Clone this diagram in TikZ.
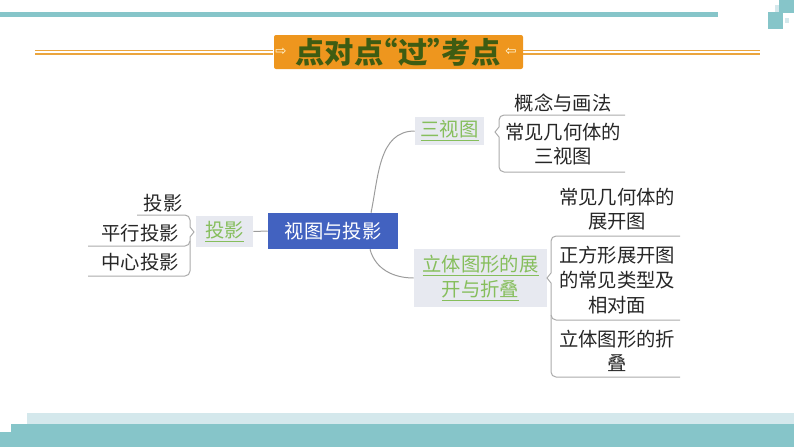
\documentclass[tikz,border=0pt]{standalone}
\usepackage{fontspec}
\setmainfont{Noto Sans CJK SC}
\newfontfamily\arrowfont{DejaVu Sans}
\usetikzlibrary{calc}
\definecolor{barteal}{HTML}{86C5C9}
\definecolor{barpale}{HTML}{D4E8EC}
\definecolor{hdorange}{HTML}{EE961E}
\definecolor{hdgreen}{HTML}{3E5C12}
\definecolor{hdline}{HTML}{EBA53E}
\definecolor{rootblue}{HTML}{4262C0}
\definecolor{topicgray}{HTML}{E7E9F0}
\definecolor{linkgreen}{HTML}{86BE5C}
\definecolor{wiregray}{HTML}{9C9C9C}
\begin{document}
\begin{tikzpicture}[x=0.75pt, y=-0.75pt,
  leaf/.style = {font=\fontsize{14.5}{18.5}\selectfont, text=black!85, align=center, inner sep=0pt},
  topic/.style = {fill=topicgray, text=linkgreen, font=\fontsize{14.5}{18.5}\selectfont, align=center, inner sep=0pt},
  wire/.style = {draw=wiregray, line width=0.75pt},
  brace/.style = {draw=wiregray!85, line width=0.75pt}]
  \useasboundingbox (0,0) rectangle (794,447);
  % frame bars
  \fill[barteal] (0,12) rectangle (718,17);
  \fill[barteal] (768,12) rectangle (783,29);
  \fill[barteal] (779,0) rectangle (794,13);
  \fill[barpale] (775,5) rectangle (779,12);
  \fill[barpale] (785,18) rectangle (789,23);
  \fill[barpale] (27,413) rectangle (794,425);
  \fill[barteal] (11,424) rectangle (794,447);
  \fill[barteal] (0,432) rectangle (11,447);
  % header
  \draw[hdline, line width=0.9pt] (35,50.5) -- (273,50.5) (35,54) -- (273,54);
  \draw[hdline, line width=0.9pt] (523,50.5) -- (760,50.5) (523,54) -- (760,54);
  \node[fill=hdorange, rounded corners=1.5pt, minimum width=186.75pt, minimum height=25.5pt, inner sep=0pt] (head) at (398.5,52) {};
  \node[text=hdgreen, font=\fontsize{22}{25}\bfseries] (headtxt) at (398,52)
    {点对点\kern-0.5em“过”\kern-0.5em考点};
  \node[text=white!90!yellow, font=\arrowfont\fontsize{10}{11}\selectfont] (harrl) at (281,52) {⇨};
  \node[text=white!90!yellow, font=\arrowfont\fontsize{10}{11}\selectfont] (harrr) at (511,52) {⇦};
  % mind map
  \node[fill=rootblue, text=white, minimum width=97.5pt, minimum height=27pt, inner sep=0pt, font=\fontsize{14.5}{18.5}\selectfont] (root) at (333,231) {视图与投影};
  \node[topic, minimum width=42.75pt, minimum height=23.25pt] (ty) at (224.5,231.5) {\underline{投影}};
  \node[topic, minimum width=51.75pt, minimum height=21pt] (sv) at (449.5,131) {\underline{三视图}};
  \node[topic, minimum width=99.75pt, minimum height=43.5pt] (lt) at (480.5,278) {\underline{立体图形的展}\\\underline{开与折叠}};
  \draw[wire] (ty.east) -- (root.west);
  \draw[wire] ($(root.north)+(38,0)$) to[out=78, in=180] (sv.west);
  \draw[wire] ($(root.south)+(37,0)$) to[out=-75, in=180] (lt.west);
  % leaves of 投影
  \node[leaf] (ty1) at (163,203) {投影};
  \node[leaf] (ty2) at (140,233) {平行投影};
  \node[leaf] (ty3) at (140,262) {中心投影};
  \draw[brace] (137,215) -- (185,215) to[out=0, in=90] (190,220) -- (190,227) -- (194,232)
    -- (190,237) -- (190,271) to[out=-90, in=0] (185,276) -- (88,276);
  \draw[brace] (88,246) -- (185,246) to[out=0, in=-90] (190,241);
  % leaves of 三视图
  \node[leaf] (sv1) at (563,103) {概念与画法};
  \node[leaf] (sv2) at (563,144) {常见几何体的\\三视图};
  \draw[brace] (625,115) -- (504,115) to[out=180, in=90] (499,120) -- (499,127) -- (495,132)
    -- (499,137) -- (499,167) to[out=-90, in=180] (504,172) -- (625,172);
  % leaves of 立体图形的展开与折叠
  \node[leaf] (lt1) at (617,209) {常见几何体的\\展开图};
  \node[leaf] (lt2) at (617,280) {正方形展开图\\的常见类型及\\相对面};
  \node[leaf] (lt3) at (617,351) {立体图形的折\\叠};
  \draw[brace] (680,236) -- (556,236) to[out=180, in=90] (551,241) -- (551,273) -- (547,278)
    -- (551,283) -- (551,372) to[out=-90, in=180] (556,377) -- (680,377);
  \draw[brace] (680,320) -- (556,320) to[out=180, in=-90] (551,315);
\end{tikzpicture}
\end{document}
